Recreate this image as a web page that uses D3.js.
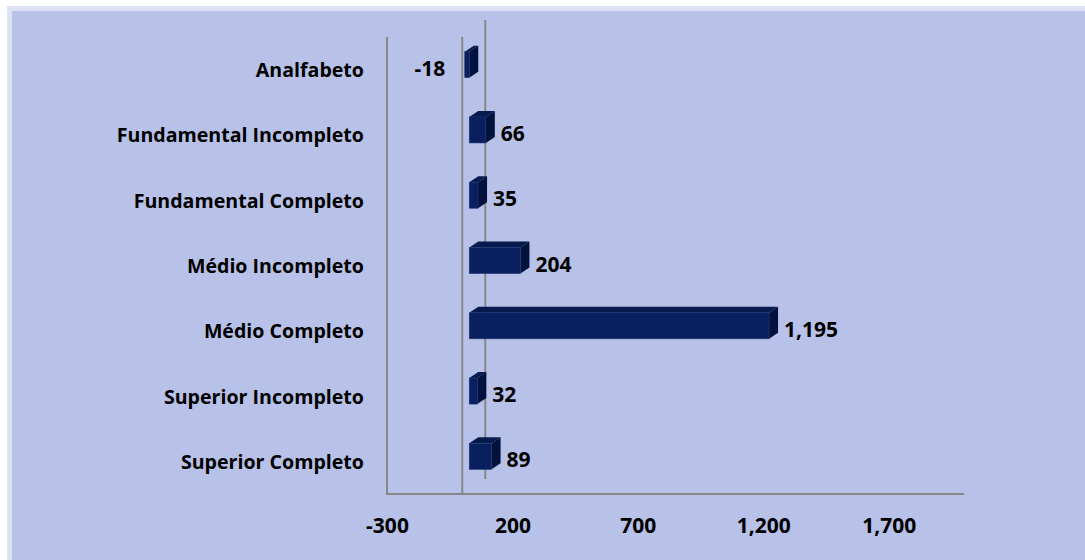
<!DOCTYPE html>
<html><head><meta charset="utf-8">
<script src="https://cdn.jsdelivr.net/npm/d3@7"></script>
<style>html,body{margin:0;padding:0;background:#fff;}svg{display:block;}</style>
</head><body>
<script>
const categories = ["Analfabeto","Fundamental Incompleto","Fundamental Completo","Médio Incompleto","Médio Completo","Superior Incompleto","Superior Completo"];
const values = [-18, 66, 35, 204, 1195, 32, 89];
const tickValues = [-300, 200, 700, 1200, 1700];
const xDomain = [-300, 2000];

const W = 1085, H = 560;
const svg = d3.select("body").append("svg").attr("width", W).attr("height", H);
svg.append("rect").attr("x",7).attr("y",6).attr("width",W).attr("height",H).attr("fill","#dde1f4");
svg.append("rect").attr("x",12).attr("y",11).attr("width",W).attr("height",H).attr("fill","#b8c1e8");

const fmt = v => d3.format(",")(v).replace("\u2212", "-");
const x = d3.scaleLinear().domain(xDomain).range([387, 964]);
const y = d3.scaleBand().domain(categories).range([37, 494]);
const depth = {dx: 23, dy: -15};
const barOff = {dx: 7, dy: 0};
const bd = {dx: 9, dy: -6};
const grid = "#878787";

// back wall zero line
svg.append("line").attr("x1", x(0)+depth.dx).attr("x2", x(0)+depth.dx)
  .attr("y1", 37+depth.dy-2).attr("y2", 494+depth.dy).attr("stroke", grid).attr("stroke-width", 2);
// left axis
svg.append("line").attr("x1", x(xDomain[0])).attr("x2", x(xDomain[0])).attr("y1", 37).attr("y2", 494)
  .attr("stroke", grid).attr("stroke-width", 2);
// front zero line
svg.append("line").attr("x1", x(0)).attr("x2", x(0)).attr("y1", 37).attr("y2", 494)
  .attr("stroke", grid).attr("stroke-width", 2);
// bottom axis
svg.append("line").attr("x1", x(xDomain[0])-1).attr("x2", x(xDomain[1])).attr("y1", 494).attr("y2", 494)
  .attr("stroke", grid).attr("stroke-width", 2);

const font = "'Open Sans', 'DejaVu Sans', sans-serif";

// bars
const g = svg.append("g");
categories.forEach((c, i) => {
  const v = values[i];
  const cy = y(c) + y.bandwidth()/2;
  const x0 = Math.min(x(0), x(v)) + barOff.dx;
  const x1 = Math.max(x(0), x(v)) + barOff.dx;
  const y0 = cy - 18, y1 = cy + 8;
  g.append("path").attr("d", `M${x0},${y0} L${x0+bd.dx},${y0+bd.dy} L${x1+bd.dx},${y0+bd.dy} L${x1},${y0} Z`)
    .attr("fill", "#061a4e");
  g.append("path").attr("d", `M${x1},${y0} L${x1+bd.dx},${y0+bd.dy} L${x1+bd.dx},${y1+bd.dy} L${x1},${y1} Z`)
    .attr("fill", "#03123d");
  g.append("rect").attr("x", x0).attr("y", y0).attr("width", x1-x0).attr("height", y1-y0)
    .attr("fill", "#0a1f5e").attr("stroke", "#1c3575").attr("stroke-width", 0.6);
  const lbl = fmt(v);
  if (v >= 0) {
    g.append("text").attr("x", x1 + bd.dx + 6).attr("y", cy - 2).attr("dominant-baseline","central")
      .attr("font-family", font).attr("font-weight", 700).attr("font-size", 21).attr("fill", "#000").text(lbl);
  } else {
    g.append("text").attr("x", x(0) - 17).attr("y", cy - 2).attr("dominant-baseline","central").attr("text-anchor","end")
      .attr("font-family", font).attr("font-weight", 700).attr("font-size", 21).attr("fill", "#000").text(lbl);
  }
});

// category labels
svg.append("g").selectAll("text").data(categories).join("text")
  .attr("x", 364).attr("y", d => y(d) + y.bandwidth()/2).attr("text-anchor", "end").attr("dominant-baseline","central")
  .attr("font-family", font).attr("font-weight", 700).attr("font-size", 19.6).attr("fill", "#000").text(d => d);

// x tick labels
const xAxis = d3.axisBottom(x).tickValues(tickValues).tickFormat(fmt).tickSize(0).tickPadding(0);
const ax = svg.append("g").attr("transform", "translate(0,494)").call(xAxis);
ax.select(".domain").remove();
ax.selectAll("text").attr("y", 31).attr("dy", null).attr("dominant-baseline","central")
  .attr("font-family", font).attr("font-weight", 700).attr("font-size", 21).attr("fill", "#000");
</script>
</body></html>
